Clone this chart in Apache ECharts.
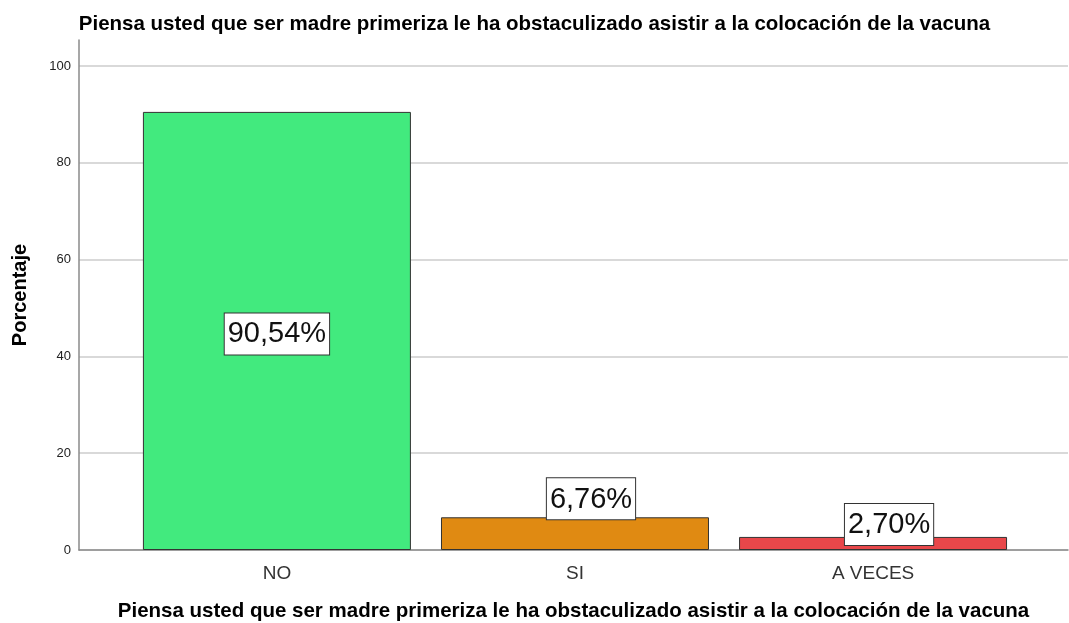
<!DOCTYPE html>
<html>
<head>
<meta charset="utf-8">
<script src="https://cdn.jsdelivr.net/npm/echarts@6/dist/echarts.min.js"></script>
<style>
  html, body { margin: 0; padding: 0; background: #fff; }
  #chart { width: 1069px; height: 623px; }
</style>
</head>
<body>
<div id="chart"></div>
<script>
const titleText = 'Piensa usted que ser madre primeriza le ha obstaculizado asistir a la colocación de la vacuna'
const categories = ['NO', 'SI', 'A VECES']
const percentages = [90.54, 6.76, 2.70]
const labelTexts = ['90,54%', '6,76%', '2,70%']
const barColors = ['#42EA7E', '#E08A12', '#E8474A']
const yTicks = [0, 20, 40, 60, 80, 100]

const chart = echarts.init(document.getElementById('chart'))

// label style per bar: big bar gets it in the middle, small ones sit on top (shifted right a bit)
const labelPlacement = [
  { position: 'inside', offset: [0, 3] },
  { position: 'top', distance: -2, offset: [16, 0] },
  { position: 'top', distance: -8, offset: [16, 0] }
]

const option = {
  animation: false,
  textStyle: { fontFamily: 'Liberation Sans, Arial, sans-serif' },
  title: {
    text: titleText,
    left: 'center',
    top: 9,
    textStyle: { fontSize: 20.5, fontWeight: 'bold', color: '#000' }
  },
  grid: { left: 79, right: 1, top: 40, bottom: 73, outerBoundsMode: 'none' },
  xAxis: {
    type: 'value',
    min: -0.664,
    max: 2.654,
    name: titleText,
    nameLocation: 'middle',
    nameGap: 51,
    nameTextStyle: { fontSize: 20.5, fontWeight: 'bold', color: '#000' },
    axisLine: { show: true, onZero: false, lineStyle: { color: '#8a8a8a', width: 1.5 } },
    axisTick: { show: false },
    splitLine: { show: false },
    axisLabel: {
      customValues: [0, 1, 2],
      fontSize: 19,
      color: '#333',
      margin: 14,
      formatter: v => categories[Math.round(v)]
    }
  },
  yAxis: {
    type: 'value',
    min: 0,
    max: 105.4,
    interval: 20,
    name: 'Porcentaje',
    nameLocation: 'middle',
    nameGap: 49,
    nameTextStyle: { fontSize: 20, fontWeight: 'bold', color: '#000' },
    axisLine: { show: true, onZero: false, lineStyle: { color: '#8a8a8a', width: 1.5 } },
    axisTick: { show: false },
    splitLine: { show: true, showMaxLine: false, lineStyle: { color: '#d9d9d9', width: 2 } },
    axisLabel: {
      fontSize: 13,
      color: '#222',
      margin: 8,
      showMaxLabel: false,
      formatter: v => (yTicks.includes(v) ? String(v) : '')
    }
  },
  series: [
    {
      type: 'bar',
      barWidth: 268,
      data: percentages.map((v, i) => ({
        value: [i, v],
        itemStyle: { color: barColors[i] },
        label: labelPlacement[i]
      })),
      itemStyle: { borderColor: '#333', borderWidth: 1 },
      label: {
        show: true,
        formatter: p => labelTexts[p.dataIndex],
        fontSize: 29,
        color: '#111',
        backgroundColor: '#fff',
        borderColor: '#333',
        borderWidth: 1,
        padding: [7, 3, 5, 3]
      }
    }
  ]
}

chart.setOption(option)
</script>
</body>
</html>
